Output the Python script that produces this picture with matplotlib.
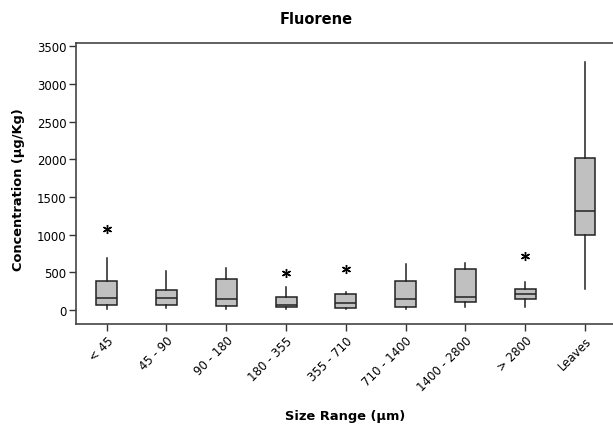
import matplotlib
matplotlib.use("Agg")
import matplotlib.pyplot as plt

categories = ["< 45", "45 - 90", "90 - 180", "180 - 355", "355 - 710",
              "710 - 1400", "1400 - 2800", "> 2800", "Leaves"]
whisker_low = [18, 31, 18, 18, 8, 18, 45, 45, 284]
q1 = [67, 67, 49, 36, 31, 45, 111, 142, 997]
median = [165, 165, 151, 67, 98, 151, 178, 209, 1317]
q3 = [386, 262, 408, 178, 209, 386, 541, 275, 2017]
whisker_high = [687, 519, 563, 311, 244, 608, 630, 373, 3290]
outliers = [[1073], [], [], [497], [541], [], [], [710], []]
yticks = [0, 500, 1000, 1500, 2000, 2500, 3000, 3500]

W, H = 613, 427
fig = plt.figure(figsize=(W / 100, H / 100), dpi=100)
ax = fig.add_axes([76 / W, 1 - 325 / H, 1 - 76 / W, (325 - 44) / H])

stats = []
for i, c in enumerate(categories):
    stats.append(dict(label=c, whislo=whisker_low[i], q1=q1[i], med=median[i],
                      q3=q3[i], whishi=whisker_high[i], fliers=outliers[i]))

edge = "#222222"
ax.bxp(stats, positions=range(1, len(categories) + 1), widths=0.35,
       patch_artist=True, showcaps=False,
       boxprops=dict(facecolor="#c0c0c0", edgecolor=edge, linewidth=1.1),
       medianprops=dict(color=edge, linewidth=1.1),
       whiskerprops=dict(color=edge, linewidth=1.1),
       flierprops=dict(marker=(6, 2, 0), markersize=6.5, markeredgecolor="black",
                       markeredgewidth=1.0, markerfacecolor="none"))

ax.set_xlim(0.487, 9.468)
ax.set_ylim(-186, 3544)
ax.set_yticks(yticks)
ax.set_yticklabels([str(v) for v in yticks])
ax.set_xticks(range(1, len(categories) + 1))
ax.set_xticklabels(categories, rotation=45, ha="right", rotation_mode="anchor")

ax.spines["right"].set_visible(False)
for s in ["left", "bottom", "top"]:
    ax.spines[s].set_color("#444444")
    ax.spines[s].set_linewidth(1.2)
ax.tick_params(axis="both", direction="out", length=5, width=1, color="#333333",
               labelsize=8.5, pad=2)

fig.text(316.5 / W, 1 - 20 / H, "Fluorene", ha="center", va="center",
         fontsize=10.5, fontweight="bold")
fig.text(19 / W, 1 - 190 / H, "Concentration (µg/Kg)", ha="center", va="center",
         rotation=90, fontsize=9.4, fontweight="bold")
fig.text(345 / W, 1 - 417 / H, "Size Range (µm)", ha="center", va="center",
         fontsize=9.4, fontweight="bold")

fig.savefig("out.png", dpi=100)
